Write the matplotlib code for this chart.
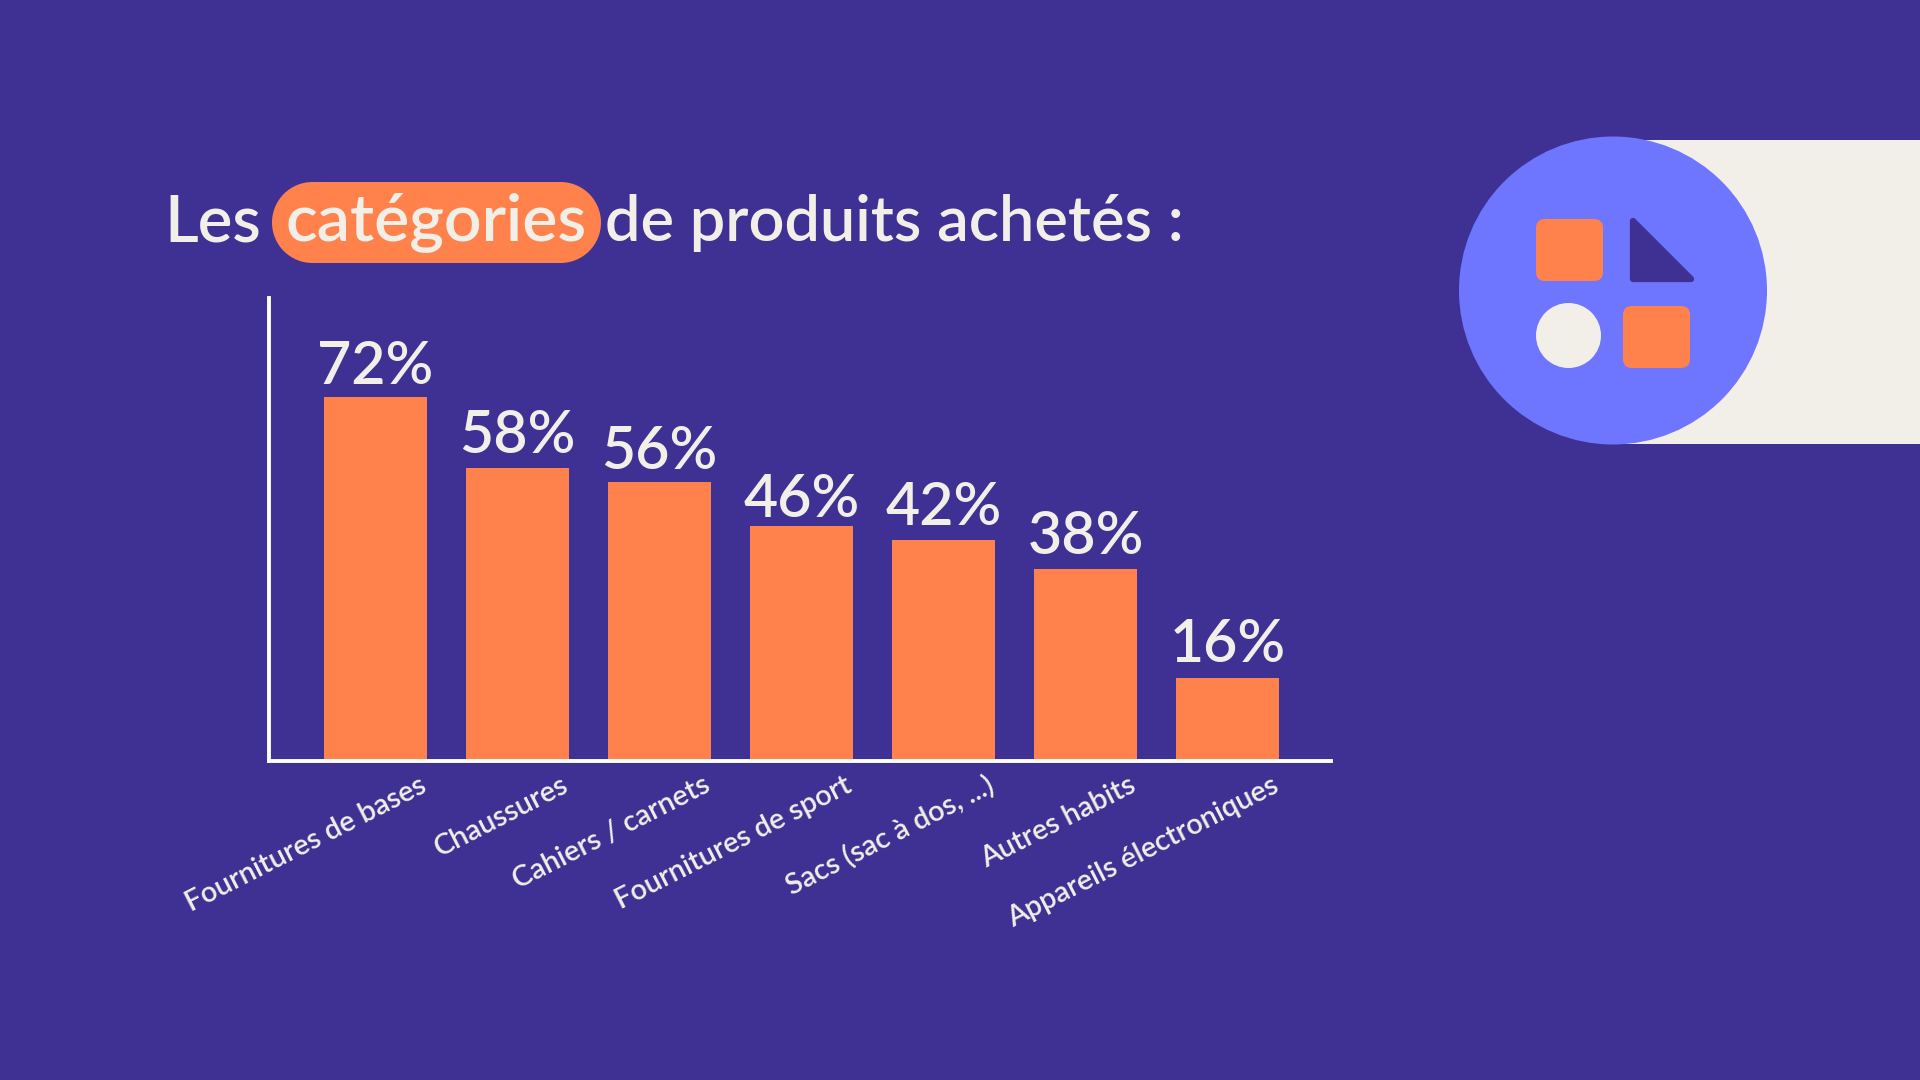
import matplotlib
matplotlib.use("Agg")
import matplotlib.pyplot as plt
from matplotlib.patches import Rectangle, Circle, FancyBboxPatch, Polygon
from matplotlib.transforms import ScaledTranslation

categories = ["Fournitures de bases", "Chaussures", "Cahiers / carnets",
              "Fournitures de sport", "Sacs (sac à dos, ...)", "Autres habits",
              "Appareils électroniques"]
bar_heights = [72, 58, 55.3, 46.6, 43.8, 38, 16.5]
value_labels = ["72%", "58%", "56%", "46%", "42%", "38%", "16%"]
label_gaps = [10, 11, 9.5, 6.5, 11, 11, 11]

BG = "#3F3193"
ORANGE = "#FF824D"
CREAM = "#F2EEE8"
BLUE = "#6E75FF"
FONT = "Lato"
W, H = 1920, 1080

fig = plt.figure(figsize=(19.2, 10.8), dpi=100, facecolor=BG)
bg = fig.add_axes([0, 0, 1, 1])
bg.set_xlim(0, W); bg.set_ylim(H, 0); bg.axis("off")

def rounded(x0, y0, x1, y1, r, color):
    bg.add_patch(FancyBboxPatch((x0 + r, y0 + r), x1 - x0 - 2 * r, y1 - y0 - 2 * r,
                                boxstyle=f"round,pad={r},rounding_size={r}",
                                fc=color, ec="none"))

# decoration
bg.add_patch(Rectangle((1613, 140), 307, 304, fc=CREAM, ec="none"))
bg.add_patch(Circle((1613, 290.5), 154, fc=BLUE, ec="none"))
rounded(1536, 219, 1603, 281, 9, ORANGE)
rounded(1623, 306, 1690, 368, 9, ORANGE)
bg.add_patch(Circle((1568.5, 335.5), 32.5, fc=CREAM, ec="none"))
bg.add_patch(Polygon([(1633, 221), (1633, 279), (1691, 279)], closed=True,
                     fc=BG, ec=BG, lw=4.5, joinstyle="round"))

# title pill
bg.add_patch(Rectangle((312, 182), 249, 81, fc=ORANGE, ec="none"))
bg.add_patch(Circle((312.5, 222.5), 40.5, fc=ORANGE, ec="none"))
bg.add_patch(Circle((560.5, 222.5), 40.5, fc=ORANGE, ec="none"))
tkw = dict(color=CREAM, family=FONT, weight="semibold", va="baseline", ha="left")
bg.text(164, 241, "Les", fontsize=47, **tkw)
bg.text(285, 241, "catégories", fontsize=47.5, **tkw)
bg.text(605, 241, "de produits achetés :", fontsize=45.4, **tkw)

# chart
L, R, T, B = 269, 1331, 298, 761
ax = fig.add_axes([L / W, 1 - B / H, (R - L) / W, (B - T) / H])
ax.patch.set_alpha(0)
pos = list(range(len(categories)))
ax.bar(pos, bar_heights, width=0.73, color=ORANGE)
ax.set_xlim((L - 375.5) / 142, (R - 375.5) / 142)
ax.set_ylim(0, (B - T) / 5.05)
for s in ("top", "right"):
    ax.spines[s].set_visible(False)
for s in ("left", "bottom"):
    ax.spines[s].set_color("white")
    ax.spines[s].set_linewidth(2.8)
ax.set_yticks([])
ax.set_xticks(pos, categories, rotation=27, ha="right", va="top", rotation_mode="anchor",
              color=CREAM, family=FONT, weight="semibold", fontsize=20.8)
ax.tick_params(axis="x", length=0, pad=8)
off = ScaledTranslation(43 / 100, 0, fig.dpi_scale_trans)
for t in ax.get_xticklabels():
    t.set_transform(t.get_transform() + off)
for p, h, s, g in zip(pos, bar_heights, value_labels, label_gaps):
    ax.annotate(s, (p, h), xytext=(0, g), textcoords="offset points", ha="center",
                va="baseline", color=CREAM, family=FONT, weight="semibold", fontsize=42.5)

fig.savefig("out.png", dpi=100, facecolor=BG)
